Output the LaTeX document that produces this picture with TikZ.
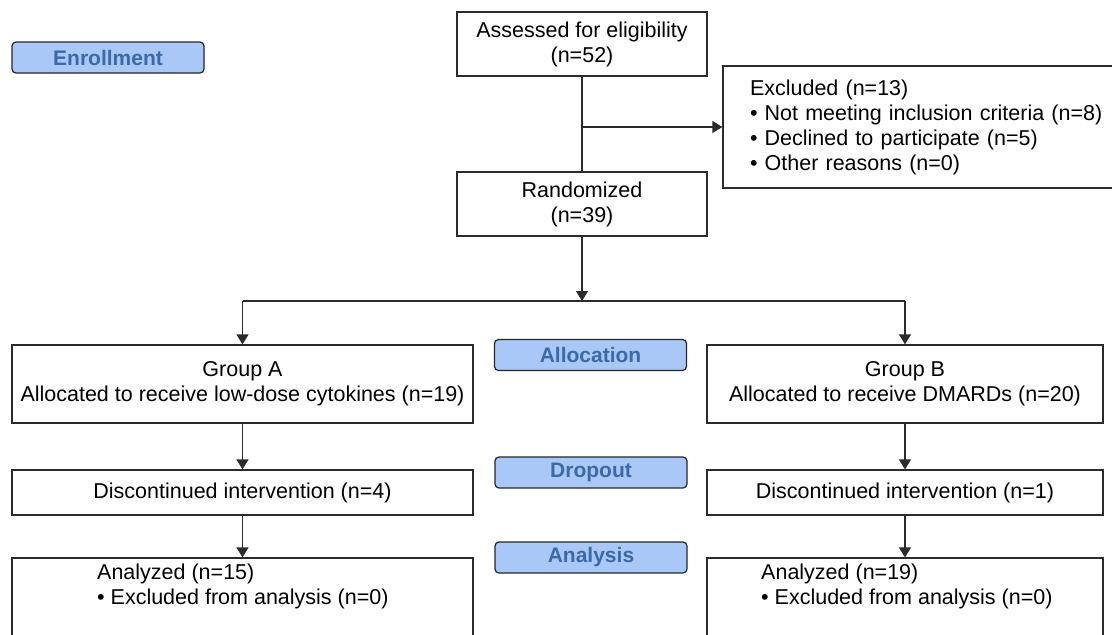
\documentclass[tikz,border=0pt]{standalone}
\usepackage{fontspec}
\setmainfont{Liberation Sans}
\usetikzlibrary{arrows.meta}
\definecolor{lblfill}{HTML}{A9C8F8}
\definecolor{lbltext}{HTML}{3C69A8}
\definecolor{linec}{HTML}{2B2B2B}
\tikzset{
 box/.style={draw=linec, line width=1.3pt, fill=white, inner sep=0pt, align=center, font=\fontsize{21.5}{25}\selectfont},
 stage/.style={draw=black!85, line width=1.2pt, rounded corners=4pt, fill=lblfill, text=lbltext, font=\fontsize{21}{24}\selectfont\bfseries, minimum width=192pt, minimum height=31pt, inner sep=0pt},
 conn/.style={draw=linec, line width=1.3pt},
 arr/.style={conn, -{Triangle[width=12pt,length=10pt]}},
 plain/.style={inner sep=0pt, align=left, font=\fontsize{21.5}{25}\selectfont},
}
\begin{document}
\begin{tikzpicture}[x=1pt,y=-1pt]
\clip (0,0) rectangle (1112,635);
\fill[white] (0,0) rectangle (1112,635);
% stage labels
\node[stage] (enr) at (108,57.5) {Enrollment};
\node[stage] (alloc) at (590.5,355) {Allocation};
\node[stage] (drop) at (591,472.5) {Dropout};
\node[stage] (anal) at (591,557.5) {Analysis};
% enrollment
\node[box, minimum width=250pt, minimum height=64pt] (ass) at (582,44) {Assessed for eligibility\\(n=52)};
\node[box, minimum width=250pt, minimum height=64pt] (rand) at (582,204) {Randomized\\(n=39)};
\node[box, minimum height=122pt, text width=380pt, inner xsep=27pt, align=left] (excl) at (940,127) {Excluded (n=13)\\
• Not meeting inclusion criteria (n=8)\\
• Declined to participate (n=5)\\
• Other reasons (n=0)};
\coordinate (br) at (582,127);
\draw[conn] (ass) -- (rand);
\draw[arr] (br) -- (br -| excl.west);
% allocation
\node[box, minimum width=461pt, minimum height=78pt] (ga) at (242.5,384) {Group A\\Allocated to receive low-dose cytokines (n=19)};
\node[box, minimum width=396pt, minimum height=78pt] (gb) at (905,384) {Group B\\Allocated to receive DMARDs (n=20)};
\coordinate (split) at (582,301);
\coordinate (sa) at (242.5,301);
\coordinate (sb) at (905,301);
\draw[arr] (rand) -- (split);
\draw[conn] (sa) -- (sb);
\draw[arr] (sa) -- (ga);
\draw[arr] (sb) -- (gb);
% dropout
\node[box, minimum width=461pt, minimum height=45pt] (da) at (242.5,492.5) {Discontinued intervention (n=4)};
\node[box, minimum width=396pt, minimum height=45pt] (db) at (905,492.5) {Discontinued intervention (n=1)};
\draw[arr] (ga) -- (da);
\draw[arr] (gb) -- (db);
% analysis
\node[box, minimum width=461pt, minimum height=100pt] (aa) at (242.5,608) {};
\node[box, minimum width=396pt, minimum height=100pt] (ab) at (905,608) {};
\node[plain, anchor=west] (aatxt) at (97,586.5) {Analyzed (n=15)\\• Excluded from analysis (n=0)};
\node[plain, anchor=west] (abtxt) at (761,586.5) {Analyzed (n=19)\\• Excluded from analysis (n=0)};
\draw[arr] (da) -- (aa);
\draw[arr] (db) -- (ab);
\end{tikzpicture}
\end{document}
